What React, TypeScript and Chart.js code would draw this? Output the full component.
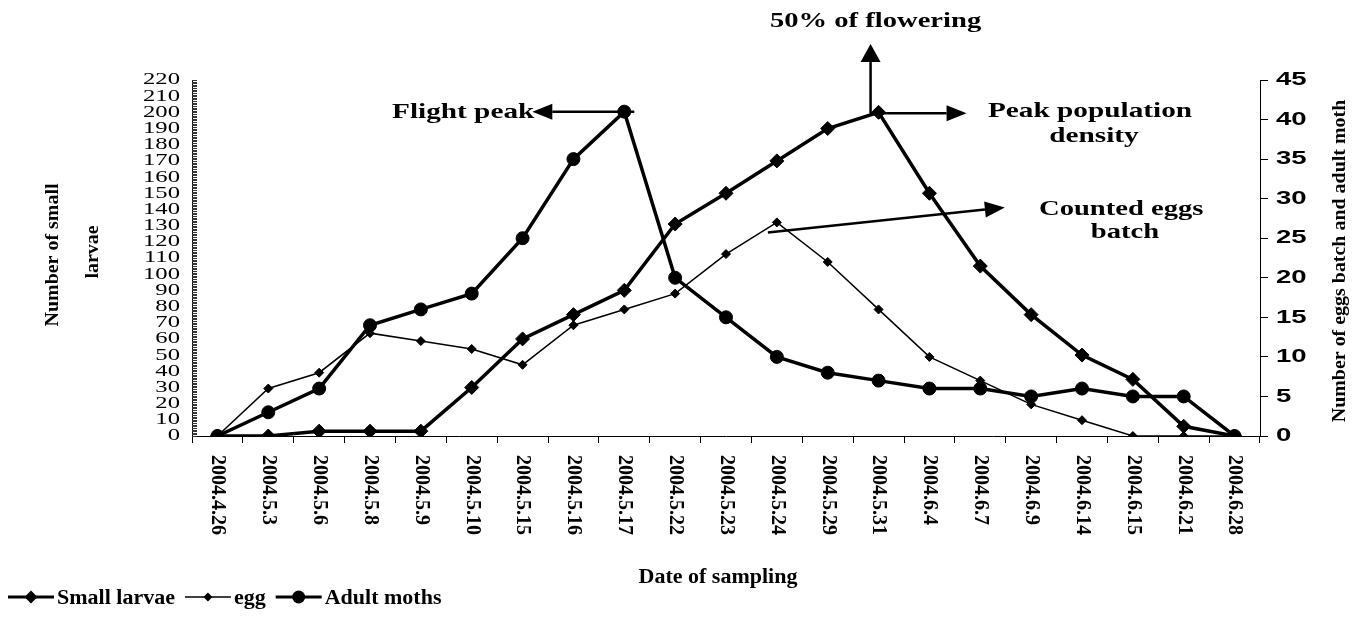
import React, { useEffect, useRef } from 'react';
import { Chart, registerables } from 'chart.js';

Chart.register(...registerables);

// ---------- data ----------
const categories = [
  '2004.4.26', '2004.5.3', '2004.5.6', '2004.5.8', '2004.5.9', '2004.5.10', '2004.5.15',
  '2004.5.16', '2004.5.17', '2004.5.22', '2004.5.23', '2004.5.24', '2004.5.29', '2004.5.31',
  '2004.6.4', '2004.6.7', '2004.6.9', '2004.6.14', '2004.6.15', '2004.6.21', '2004.6.28',
];
const smallLarvae = [0, 0, 3, 3, 3, 30, 60, 75, 90, 131, 150, 170, 190, 200, 150, 105, 75, 50, 35, 6, 0];
const eggs = [0, 6, 8, 13, 12, 11, 9, 14, 16, 18, 23, 27, 22, 16, 10, 7, 4, 2, 0, 0, 0];
const adultMoths = [0, 3, 6, 14, 16, 18, 25, 35, 41, 20, 15, 10, 8, 7, 6, 6, 5, 6, 5, 5, 0];

const leftTicks = [0, 10, 20, 30, 40, 50, 60, 70, 80, 90, 100, 110, 120, 130, 140, 150, 160, 170, 180, 190, 200, 210, 220];
const rightTicks = [0, 5, 10, 15, 20, 25, 30, 35, 40, 45];

const seriesNames = ['Small larvae', 'egg', 'Adult moths'];
const leftTitle = ['Number of small', 'larvae'];
const rightTitle = 'Number of eggs batch and adult moth';
const xTitle = 'Date of sampling';

const SERIF = "'Liberation Serif', 'Times New Roman', serif";
const SANS = "'Liberation Sans', Arial, sans-serif";

function txt(ctx: CanvasRenderingContext2D, s: string, x: number, y: number, font: string, sx: number,
  align: CanvasTextAlign, rot = 0, baseline: CanvasTextBaseline = 'alphabetic') {
  ctx.save();
  ctx.translate(x, y);
  if (rot) ctx.rotate(rot);
  ctx.scale(sx, 1);
  ctx.font = font;
  ctx.textAlign = align;
  ctx.textBaseline = baseline;
  ctx.fillStyle = '#000';
  ctx.fillText(s, 0, 0);
  ctx.restore();
}

function arrow(ctx: CanvasRenderingContext2D, x1: number, y1: number, x2: number, y2: number,
  lw = 2.5, headLen = 20, headW = 8) {
  const a = Math.atan2(y2 - y1, x2 - x1);
  const bx = x2 - headLen * Math.cos(a);
  const by = y2 - headLen * Math.sin(a);
  ctx.save();
  ctx.strokeStyle = '#000';
  ctx.fillStyle = '#000';
  ctx.lineWidth = lw;
  ctx.beginPath();
  ctx.moveTo(x1, y1);
  ctx.lineTo(bx, by);
  ctx.stroke();
  ctx.beginPath();
  ctx.moveTo(x2, y2);
  ctx.lineTo(bx + headW * Math.sin(a), by - headW * Math.cos(a));
  ctx.lineTo(bx - headW * Math.sin(a), by + headW * Math.cos(a));
  ctx.closePath();
  ctx.fill();
  ctx.restore();
}

function marker(ctx: CanvasRenderingContext2D, style: string, x: number, y: number, r: number) {
  ctx.beginPath();
  if (style === 'circle') {
    ctx.arc(x, y, r, 0, Math.PI * 2);
  } else {
    ctx.moveTo(x - r, y);
    ctx.lineTo(x, y - r);
    ctx.lineTo(x + r, y);
    ctx.lineTo(x, y + r);
    ctx.closePath();
  }
  ctx.fill();
}

const decorations = {
  id: 'decorations',
  afterDraw(chart: any) {
    const ctx: CanvasRenderingContext2D = chart.ctx;
    const x = chart.scales.x;
    const yl = chart.scales.y;
    const yr = chart.scales.y1;
    const area = chart.chartArea;
    ctx.save();

    // dense minor ticks on left axis (inside)
    ctx.strokeStyle = '#333';
    ctx.lineWidth = 1;
    ctx.beginPath();
    for (let v = 0; v <= 220; v++) {
      const py = Math.round(yl.getPixelForValue(v)) + 0.5;
      ctx.moveTo(area.left, py);
      ctx.lineTo(area.left + 5, py);
    }
    ctx.stroke();

    // left tick labels
    leftTicks.forEach((v) => {
      txt(ctx, String(v), area.left - 12, yl.getPixelForValue(v), `17px ${SERIF}`, 1.45, 'right', 0, 'middle');
    });
    // right tick labels
    rightTicks.forEach((v) => {
      txt(ctx, String(v), area.right + 16, yr.getPixelForValue(v), `bold 19px ${SANS}`, 1.45, 'left', 0, 'middle');
    });

    // x tick labels (rotated clockwise)
    categories.forEach((c, i) => {
      txt(ctx, c, x.getPixelForValue(i), area.bottom + 19, `bold 20px ${SERIF}`, 1, 'left', Math.PI / 2, 'middle');
    });

    // axis titles
    const midY = (area.top + area.bottom) / 2;
    txt(ctx, leftTitle[0], 45, midY - 3, `bold 19px ${SERIF}`, 1.05, 'center', -Math.PI / 2, 'middle');
    txt(ctx, leftTitle[1], 85, midY - 6, `bold 19px ${SERIF}`, 1.05, 'center', -Math.PI / 2, 'middle');
    txt(ctx, rightTitle, 1332, midY + 3, `bold 19px ${SERIF}`, 1.05, 'center', -Math.PI / 2, 'middle');
    txt(ctx, xTitle, 710, 575, `bold 20px ${SERIF}`, 1.1, 'center');

    // annotations
    const annFont = `bold 22px ${SERIF}`;
    const pFlight = { x: x.getPixelForValue(8), y: yr.getPixelForValue(adultMoths[8]) };
    arrow(ctx, pFlight.x + 10, pFlight.y, pFlight.x - 92, pFlight.y);
    txt(ctx, 'Flight peak', pFlight.x - 90, pFlight.y + 6, annFont, 1.33, 'right');

    const pPeak = { x: x.getPixelForValue(13), y: yl.getPixelForValue(smallLarvae[13]) };
    const vx = pPeak.x - 8;
    arrow(ctx, vx, pPeak.y + 1, vx, 36, 2.5, 18, 10);
    arrow(ctx, vx, pPeak.y + 1, pPeak.x + 88, pPeak.y + 1);
    txt(ctx, '50% of flowering', vx + 5, 19, annFont, 1.3, 'center');
    txt(ctx, 'Peak population', 980, 109, annFont, 1.33, 'left');
    txt(ctx, 'density', 1086, 134, annFont, 1.33, 'center');

    const pEgg = { x: x.getPixelForValue(11), y: yr.getPixelForValue(eggs[11]) };
    arrow(ctx, pEgg.x - 9, pEgg.y + 10, pEgg.x + 228, pEgg.y - 15);
    txt(ctx, 'Counted eggs', 1031, 207, annFont, 1.3, 'left');
    txt(ctx, 'batch', 1117, 230, annFont, 1.3, 'center');

    // legend
    const legY = 589;
    const items = [
      { name: seriesNames[0], lw: 3, style: 'diamond', r: 6.5 },
      { name: seriesNames[1], lw: 1.5, style: 'diamond', r: 4.5 },
      { name: seriesNames[2], lw: 3, style: 'circle', r: 6.5 },
    ];
    let lx = 0;
    items.forEach((it) => {
      ctx.strokeStyle = '#000';
      ctx.fillStyle = '#000';
      ctx.lineWidth = it.lw;
      ctx.beginPath();
      ctx.moveTo(lx, legY);
      ctx.lineTo(lx + 46, legY);
      ctx.stroke();
      marker(ctx, it.style, lx + 23, legY, it.r);
      ctx.font = `bold 20px ${SERIF}`;
      const w = ctx.measureText(it.name).width * 1.1;
      txt(ctx, it.name, lx + 49, legY + 7, `bold 20px ${SERIF}`, 1.1, 'left');
      lx = lx + 49 + w + 10;
    });

    ctx.restore();
  },
};

export default function App() {
  const ref = useRef<HTMLCanvasElement | null>(null);
  useEffect(() => {
    if (!ref.current) return;
    const chart = new Chart(ref.current, {
      type: 'line',
      data: {
        labels: categories,
        datasets: [
          {
            label: seriesNames[0],
            data: smallLarvae,
            yAxisID: 'y',
            borderColor: '#000',
            backgroundColor: '#000',
            borderWidth: 3.5,
            pointStyle: 'rectRot',
            pointRadius: 7,
            pointBackgroundColor: '#000',
            pointBorderColor: '#000',
            pointBorderWidth: 1,
            tension: 0,
          },
          {
            label: seriesNames[1],
            data: eggs,
            yAxisID: 'y1',
            borderColor: '#000',
            backgroundColor: '#000',
            borderWidth: 1.5,
            pointStyle: 'rectRot',
            pointRadius: 4.5,
            pointBackgroundColor: '#000',
            pointBorderColor: '#000',
            pointBorderWidth: 1,
            tension: 0,
          },
          {
            label: seriesNames[2],
            data: adultMoths,
            yAxisID: 'y1',
            borderColor: '#000',
            backgroundColor: '#000',
            borderWidth: 3.5,
            pointStyle: 'circle',
            pointRadius: 6.5,
            pointBackgroundColor: '#000',
            pointBorderColor: '#000',
            pointBorderWidth: 1,
            tension: 0,
          },
        ],
      },
      options: {
        responsive: true,
        maintainAspectRatio: false,
        animation: false,
        layout: { padding: { left: 184, top: 72, right: 82, bottom: 168 }, autoPadding: false },
        plugins: {
          legend: { display: false },
          tooltip: { enabled: false },
        },
        scales: {
          x: {
            type: 'category',
            offset: true,
            grid: { offset: true, drawOnChartArea: false, drawTicks: true, tickLength: 7, color: '#000' },
            border: { display: true, color: '#000', width: 1 },
            ticks: { display: false },
          },
          y: {
            position: 'left',
            min: 0,
            max: 220,
            ticks: { display: false, stepSize: 10 },
            grid: { drawOnChartArea: false, drawTicks: false },
            border: { display: true, color: '#000', width: 1 },
          },
          y1: {
            position: 'right',
            min: 0,
            max: 45,
            ticks: { display: false, stepSize: 5 },
            grid: { drawOnChartArea: false, drawTicks: true, tickLength: 8, color: '#000' },
            border: { display: true, color: '#000', width: 1 },
          },
        },
      },
      plugins: [decorations],
    });
    return () => chart.destroy();
  }, []);
  return (
    <div style={{ position: 'relative', width: '1342px', height: '603px' }}>
      <canvas ref={ref} />
    </div>
  );
}
